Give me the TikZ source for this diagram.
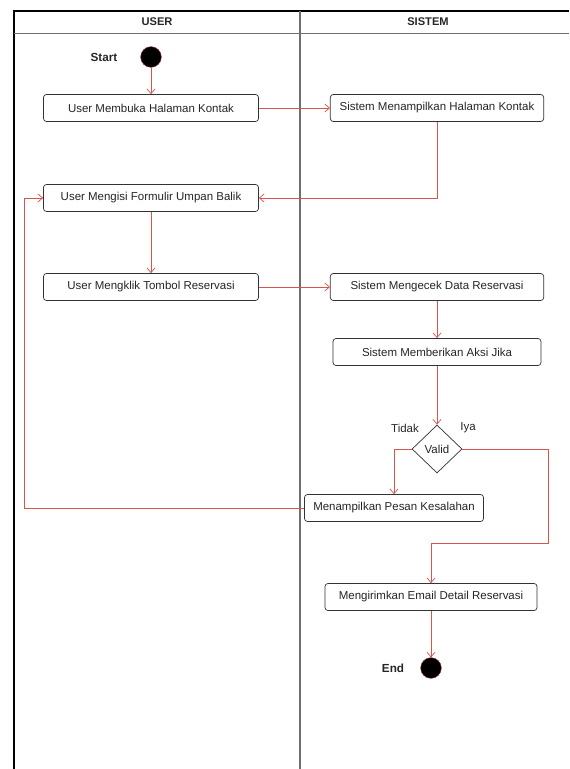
\documentclass[tikz,border=0pt]{standalone}
\usepackage{fontspec}
\setmainfont{Liberation Sans}
\usetikzlibrary{arrows.meta,positioning,shapes.geometric}
\definecolor{flowred}{HTML}{D9534F}
\definecolor{lanegray}{HTML}{6E6E6E}
\tikzset{
  >={Straight Barb[length=1.4mm,width=2.4mm]},
  every node/.append style={font=\fontsize{9.8}{12}\selectfont, text=black!85},
}
\tikzset{
  act/.style={draw=black!80, rounded corners=2.5pt, line width=0.6pt, minimum height=0.81cm, align=center, fill=white},
  flow/.style={->, draw=flowred, line width=0.6pt},
  lane/.style={draw=lanegray, line width=0.9pt}
}

\begin{document}
\begin{tikzpicture}[
  x=0.03cm, y=-0.03cm,
  dot/.style={circle, fill=black, draw=flowred!60!black, minimum size=0.62cm, inner sep=0pt},
  decision/.style={diamond, draw=black!80, line width=0.6pt, minimum width=1.5cm, minimum height=1.44cm, inner sep=0pt, fill=white},
  lanehead/.style={font=\fontsize{9.5}{11}\selectfont\bfseries}
]
\useasboundingbox (0,0) rectangle (569,769);

% Swimlanes
\draw[line width=1pt] (14,769) -- (14,11) -- (569,11);
\draw[lane, line width=0.6pt] (14,33) -- (569,33);
\draw[lane] (300,11) -- (300,769);
\node[lanehead] (laneuser) at (157,22) {USER};
\node[lanehead] (lanesistem) at (428,22) {SISTEM};

% Start / end
\node[dot] (start) at (151,57) {};
\node[font=\fontsize{10}{11}\selectfont\bfseries] (lblstart) at (104,57) {Start};
\node[dot] (end) at (431,668) {};
\node[font=\fontsize{10}{11}\selectfont\bfseries] (lblend) at (393,668) {End};

% Activities (user lane)
\node[act, minimum width=6.45cm] (bukahalaman) at (151,108) {User Membuka Halaman Kontak};
\node[act, minimum width=6.45cm] (isiformulir) at (151,198) {User Mengisi Formulir Umpan Balik};
\node[act, minimum width=6.45cm] (kliktombol) at (151,287) {User Mengklik Tombol Reservasi};

% Activities (sistem lane)
\node[act, minimum width=6.4cm] (tampilhalaman) at (437,108) {Sistem Menampilkan Halaman Kontak};
\node[act, minimum width=6.4cm] (cekdata) at (437,287) {Sistem Mengecek Data Reservasi};
\node[act, minimum width=6.24cm] (beriaksi) at (437,352) {Sistem Memberikan Aksi Jika};
\node[decision] (valid) at (437,449) {Valid};
\node (lbltidak) at (405,428) {Tidak};
\node (lbliya) at (468,428) {Iya};
\node[act, minimum width=5.37cm] (pesansalah) at (394,508) {Menampilkan Pesan Kesalahan};
\node[act, minimum width=6.36cm] (kirimemail) at (431,597) {Mengirimkan Email Detail Reservasi};

% Bend points
\coordinate (balik) at (24,508);
\coordinate (iyakanan) at (548,543);
\coordinate (iyabawah) at (431,543);

% Flow
\draw[flow] (start) -- (bukahalaman);
\draw[flow] (bukahalaman) -- (tampilhalaman);
\draw[flow] (tampilhalaman.south) |- (isiformulir.east);
\draw[flow] (isiformulir) -- (kliktombol);
\draw[flow] (kliktombol) -- (cekdata);
\draw[flow] (cekdata) -- (beriaksi);
\draw[flow] (beriaksi) -- (valid);
\draw[flow] (valid.west) -| (pesansalah.north);
\draw[flow] (pesansalah.west) -- (balik) |- (isiformulir.west);
\draw[flow] (valid.east) -| (iyakanan) -- (iyabawah) -- (kirimemail.north);
\draw[flow] (kirimemail) -- (end);

\end{tikzpicture}
\end{document}
